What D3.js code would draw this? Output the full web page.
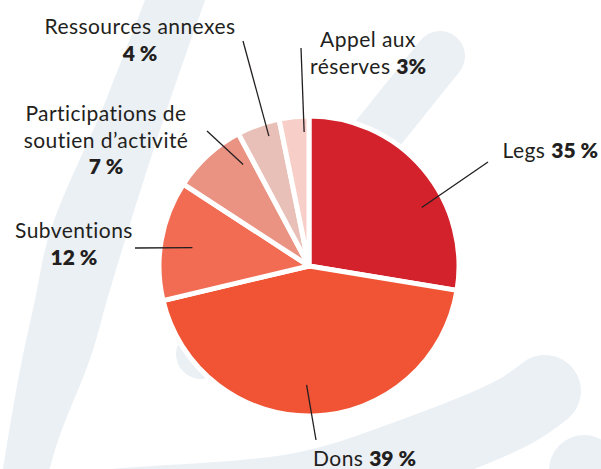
<!DOCTYPE html>
<html>
<head>
<meta charset="utf-8">
<script src="https://cdn.jsdelivr.net/npm/d3@7"></script>
<style>
  body { margin: 0; background: #fff; }
  svg { display: block; }
  text { font-family: Lato, "Open Sans", sans-serif; fill: #231f20; }
</style>
</head>
<body>
<div id="chart"></div>
<script>
// Ressources 2023 - répartition
const categories = ["Legs", "Dons", "Subventions", "Participations de soutien d’activité", "Ressources annexes", "Appel aux réserves"];
// slice sizes as they are drawn in the picture
const shares = [27.6, 43.7, 12.9, 8.0, 4.6, 3.2];
// percentages printed in the labels
const pctLabels = ["35 %", "39 %", "12 %", "7 %", "4 %", "3%"];
const colors = ["#d3222b", "#f05435", "#f26c53", "#eb9383", "#e9c0b8", "#f8cfc8"];

// label text lines, "%" is replaced by the bold percentage
const labelLines = [
    [["Legs ", "%"]],
    [["Dons ", "%"]],
    [["Subventions"], ["%"]],
    [["Participations de"], ["soutien d’activité"], ["%"]],
    [["Ressources annexes"], ["%"]],
    [["Appel aux"], ["réserves ", "%"]]
];

// label placement
const labelPos = [
    {x: 598, y: 158, anchor: "end",    lx: 488, ly: 162, t: 0.63, r: 127},
    {x: 313, y: 466, anchor: "start",  lx: 316, ly: 440, t: 0.52, r: 119},
    {x: 74,  y: 238, anchor: "middle", lx: 135, ly: 248, t: 0.48, r: 118},
    {x: 106, y: 121, anchor: "middle", lx: 207, ly: 131, t: 0.83, r: 121},
    {x: 140, y: 34,  anchor: "middle", lx: 243, ly: 41,  t: 0.66, r: 136},
    {x: 368, y: 47,  anchor: "middle", lx: 301, ly: 48,  t: 0.82, r: 134}
];

const width = 601, height = 469;
const cx = 309, cy = 266, radius = 150;
const lineGap = 26.5;

const svg = d3.select("#chart")
    .append("svg")
    .attr("width", width)
    .attr("height", height)
    .attr("viewBox", [0, 0, width, height]);

// background shapes (decorative logo strokes)
const bg = svg.append("g").attr("fill", "#ebf0f5").attr("stroke", "#ebf0f5");

const leftBand = [
    {y: -5, l: 147, r: 207}, {y: 100, l: 106, r: 170}, {y: 250, l: 45, r: 122},
    {y: 300, l: 35, r: 107}, {y: 350, l: 24, r: 93}, {y: 450, l: 6, r: 55}, {y: 475, l: 2, r: 48}
];
bg.append("path")
    .attr("stroke", "none")
    .attr("d", d3.area().y(d => d.y).x0(d => d.l).x1(d => d.r).curve(d3.curveMonotoneY)(leftBand));

bg.append("line")
    .attr("x1", 440).attr("y1", 56).attr("x2", 201).attr("y2", 354)
    .attr("stroke-width", 50).attr("stroke-linecap", "round");

const bottomBand = [[0, 516], [113, 505], [303, 488], [412, 454], [514, 412], [545, 391]];
bg.append("path")
    .attr("fill", "none")
    .attr("stroke-width", 72)
    .attr("stroke-linecap", "round")
    .attr("d", d3.line().curve(d3.curveCatmullRom)(bottomBand));

bg.append("line")
    .attr("x1", 584).attr("y1", 470).attr("x2", 610).attr("y2", 530)
    .attr("stroke-width", 70).attr("stroke-linecap", "round");

// pie
const pie = d3.pie().sort(null).value(d => d);
const arcs = pie(shares);
const arc = d3.arc().innerRadius(0).outerRadius(radius);

const g = svg.append("g").attr("transform", `translate(${cx},${cy})`);

g.selectAll("path")
    .data(arcs)
    .enter()
    .append("path")
    .attr("d", arc)
    .attr("fill", (d, i) => colors[i])
    .attr("stroke", "#fff")
    .attr("stroke-width", 5)
    .attr("stroke-linejoin", "round");

// leader lines
svg.selectAll("line.leader")
    .data(arcs)
    .enter()
    .append("line")
    .attr("class", "leader")
    .attr("x1", (d, i) => labelPos[i].lx)
    .attr("y1", (d, i) => labelPos[i].ly)
    .attr("x2", (d, i) => {
        const a = d.startAngle + labelPos[i].t * (d.endAngle - d.startAngle);
        return cx + Math.sin(a) * labelPos[i].r;
    })
    .attr("y2", (d, i) => {
        const a = d.startAngle + labelPos[i].t * (d.endAngle - d.startAngle);
        return cy - Math.cos(a) * labelPos[i].r;
    })
    .attr("stroke", "#231f20")
    .attr("stroke-width", 1.3);

// labels
categories.forEach((c, i) => {
    const p = labelPos[i];
    const t = svg.append("text")
        .attr("text-anchor", p.anchor)
        .attr("font-size", 21);
    labelLines[i].forEach((line, k) => {
        line.forEach((part, j) => {
            const ts = t.append("tspan");
            if (j === 0) ts.attr("x", p.x).attr("y", p.y + k * lineGap);
            if (part === "%") ts.attr("font-weight", 800).text(pctLabels[i]);
            else ts.attr("font-weight", 400).attr("letter-spacing", 0.45).text(part);
        });
    });
});
</script>
</body>
</html>
